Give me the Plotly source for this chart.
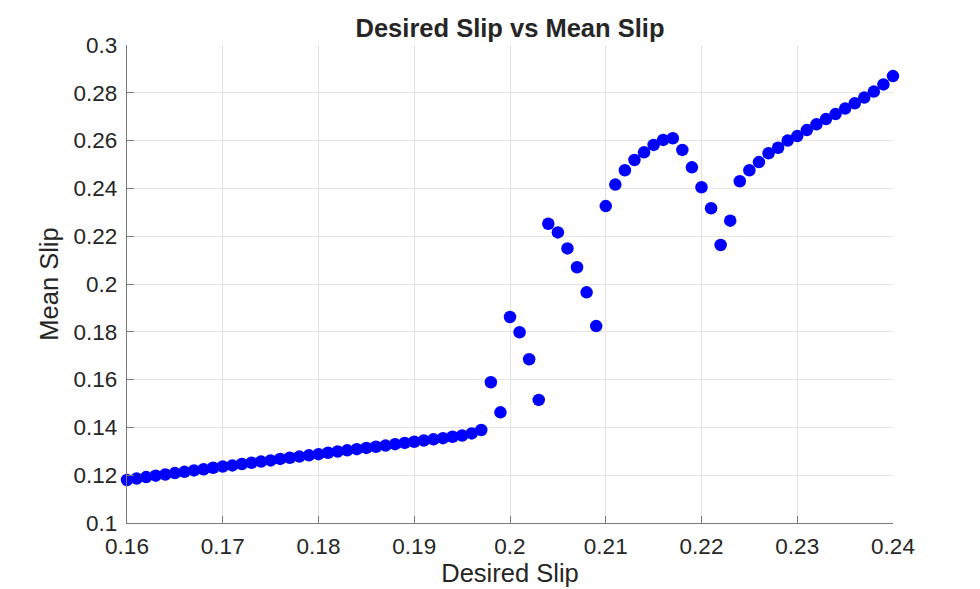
import plotly.graph_objects as go

# desired slip setpoints (x) and the mean slip that came out (y)
desired_slip = [
    0.160, 0.161, 0.162, 0.163, 0.164, 0.165, 0.166, 0.167, 0.168, 0.169,
    0.170, 0.171, 0.172, 0.173, 0.174, 0.175, 0.176, 0.177, 0.178, 0.179,
    0.180, 0.181, 0.182, 0.183, 0.184, 0.185, 0.186, 0.187, 0.188, 0.189,
    0.190, 0.191, 0.192, 0.193, 0.194, 0.195, 0.196, 0.197, 0.198, 0.199,
    0.200, 0.201, 0.202, 0.203, 0.204, 0.205, 0.206, 0.207, 0.208, 0.209,
    0.210, 0.211, 0.212, 0.213, 0.214, 0.215, 0.216, 0.217, 0.218, 0.219,
    0.220, 0.221, 0.222, 0.223, 0.224, 0.225, 0.226, 0.227, 0.228, 0.229,
    0.230, 0.231, 0.232, 0.233, 0.234, 0.235, 0.236, 0.237, 0.238, 0.239,
    0.240,
]
mean_slip = [
    0.1180, 0.1186, 0.1192, 0.1198, 0.1203, 0.1209, 0.1214, 0.1220, 0.1225, 0.1231,
    0.1236, 0.1241, 0.1247, 0.1252, 0.1257, 0.1262, 0.1268, 0.1273, 0.1278, 0.1283,
    0.1288, 0.1294, 0.1299, 0.1304, 0.1309, 0.1314, 0.1319, 0.1324, 0.1330, 0.1335,
    0.1340, 0.1345, 0.1350, 0.1355, 0.1361, 0.1366, 0.1375, 0.1389, 0.1589, 0.1463,
    0.1862, 0.1798, 0.1685, 0.1515, 0.2252, 0.2216, 0.2149, 0.2070, 0.1965, 0.1824,
    0.2326, 0.2416, 0.2476, 0.2519, 0.2551, 0.2582, 0.2603, 0.2610, 0.2561, 0.2488,
    0.2405, 0.2317, 0.2163, 0.2265, 0.2430, 0.2476, 0.2510, 0.2547, 0.2570, 0.2600,
    0.2619, 0.2644, 0.2668, 0.2690, 0.2711, 0.2734, 0.2756, 0.2780, 0.2805, 0.2835,
    0.2870,
]

x_ticks = [0.16, 0.17, 0.18, 0.19, 0.20, 0.21, 0.22, 0.23, 0.24]
x_tick_text = ["0.16", "0.17", "0.18", "0.19", "0.2", "0.21", "0.22", "0.23", "0.24"]
y_ticks = [0.10, 0.12, 0.14, 0.16, 0.18, 0.20, 0.22, 0.24, 0.26, 0.28, 0.30]
y_tick_text = ["0.1", "0.12", "0.14", "0.16", "0.18", "0.2", "0.22", "0.24", "0.26", "0.28", "0.3"]

font = "Arial, Liberation Sans, sans-serif"
text_col = "#262626"
axis_grey = "#7a7a7a"
grid_grey = "#e4e4e4"

# the page body has an 8px margin, so the figure is a bit smaller than the window
W, H = 972, 581

fig = go.Figure()
fig.add_trace(go.Scatter(
    x=desired_slip,
    y=mean_slip,
    mode="markers",
    marker=dict(color="#0000ff", size=12.5, line=dict(width=0)),
    cliponaxis=False,
    showlegend=False,
))

axis_common = dict(
    showline=True, linecolor=axis_grey, linewidth=1.3,
    ticks="inside", ticklen=7, tickcolor=axis_grey, tickwidth=1.3,
    showgrid=True, gridcolor=grid_grey, gridwidth=1,
    zeroline=False, mirror=False, automargin=False,
    tickfont=dict(family=font, size=22.5, color=text_col),
)

fig.update_layout(
    width=W, height=H,
    margin=dict(l=119, r=87, t=37, b=66),
    paper_bgcolor="white", plot_bgcolor="white",
    title=dict(
        text="<b>Desired Slip vs Mean Slip</b>",
        x=502 / W, xanchor="center",
        y=1 - 20 / H, yanchor="middle",
        font=dict(family=font, size=25.5, color=text_col),
    ),
    xaxis=dict(
        range=[0.16, 0.24], tickvals=x_ticks, ticktext=x_tick_text,
        ticklabelstandoff=3,
        title=dict(text="Desired Slip", standoff=5,
                   font=dict(family=font, size=25.5, color=text_col)),
        **axis_common,
    ),
    yaxis=dict(
        range=[0.1, 0.3], tickvals=y_ticks, ticktext=y_tick_text,
        ticklabelstandoff=4,
        title=dict(text="Mean Slip", standoff=7,
                   font=dict(family=font, size=25.5, color=text_col)),
        **axis_common,
    ),
)

fig.write_html("out.html")
